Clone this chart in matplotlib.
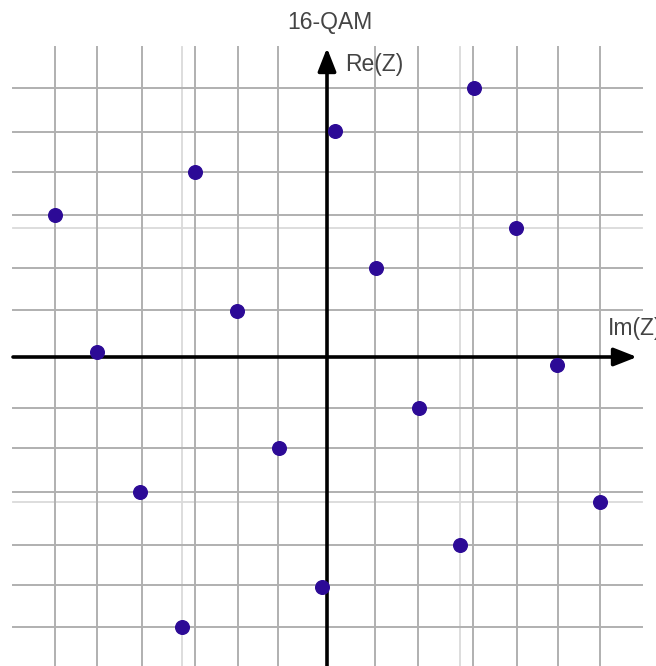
import matplotlib
matplotlib.use("Agg")
import matplotlib.pyplot as plt

plt.rcParams['font.family'] = ['Liberation Sans', 'DejaVu Sans']

# 16-QAM constellation points (grid units, origin at axis crossing)
sym_x = [-6.33, -5.35, -4.35, -3.37, -3.07, -2.09, -1.12, -0.12,
         0.19, 1.14, 2.14, 3.09, 3.42, 4.40, 5.35, 6.35]
sym_y = [3.30, 0.12, -3.14, -6.28, 4.30, 1.07, -2.12, -5.35,
         5.26, 2.07, -1.19, -4.37, 6.26, 3.00, -0.19, -3.37]

# reference grid
grid_x = [-6.33, -5.35, -4.30, -3.07, -2.07, -1.14, 1.12, 2.12, 3.40, 4.42, 5.37, 6.35]
grid_y = [6.26, 5.23, 4.30, 3.30, 2.07, 1.09, -1.19, -2.12, -3.14, -4.37, -5.30, -6.28]
faint_x = [-3.37, 3.09]
faint_y = [3.00, -3.37]

title = "16-QAM"
xlabel = "Im(Z)"
ylabel = "Re(Z)"

W, H = 656, 666
ox, oy, s = 327, 357, 43.0   # axis crossing (px) and pixels per unit

fig = plt.figure(figsize=(W / 100, H / 100), dpi=100)
ax = fig.add_axes([0, 0, 1, 1])
ax.set_xlim(-ox / s, (W - ox) / s)
ax.set_ylim(-(H - oy) / s, oy / s)
ax.axis('off')

gx0, gx1 = (13 - ox) / s, (642 - ox) / s
gy_top, gy_bot = (oy - 47) / s, -(H - oy) / s

for v in faint_x:
    ax.plot([v, v], [gy_bot, gy_top], color='#dadada', lw=1.3, zorder=1)
for v in faint_y:
    ax.plot([gx0, gx1], [v, v], color='#dadada', lw=1.3, zorder=1)
for v in grid_x:
    ax.plot([v, v], [gy_bot, gy_top], color='#b0b0b0', lw=1.4, zorder=1)
for v in grid_y:
    ax.plot([gx0, gx1], [v, v], color='#b0b0b0', lw=1.4, zorder=1)

# axes with arrow heads
arrow = dict(arrowstyle='-|>,head_length=1.4,head_width=0.55', color='black',
             lw=2.6, shrinkA=0, shrinkB=0)
ax.annotate('', xy=((637 - ox) / s, 0), xytext=(gx0, 0), arrowprops=arrow, zorder=3)
ax.annotate('', xy=(0, (oy - 48) / s), xytext=(0, gy_bot), arrowprops=arrow, zorder=3)

ax.plot(sym_x, sym_y, 'o', color='#2c0a96', ms=9.8, zorder=4, mec='#2c0a96')

ax.text((330 - ox) / s, (oy - 23) / s, title, ha='center', va='center',
        fontsize=16.5, color='#444444')
ax.text((345 - ox) / s, (oy - 64) / s, ylabel, ha='left', va='center',
        fontsize=16.5, color='#444444')
ax.text((608 - ox) / s, (oy - 328) / s, xlabel, ha='left', va='center',
        fontsize=16.5, color='#444444', clip_on=False)

fig.savefig('out.png', dpi=100)
